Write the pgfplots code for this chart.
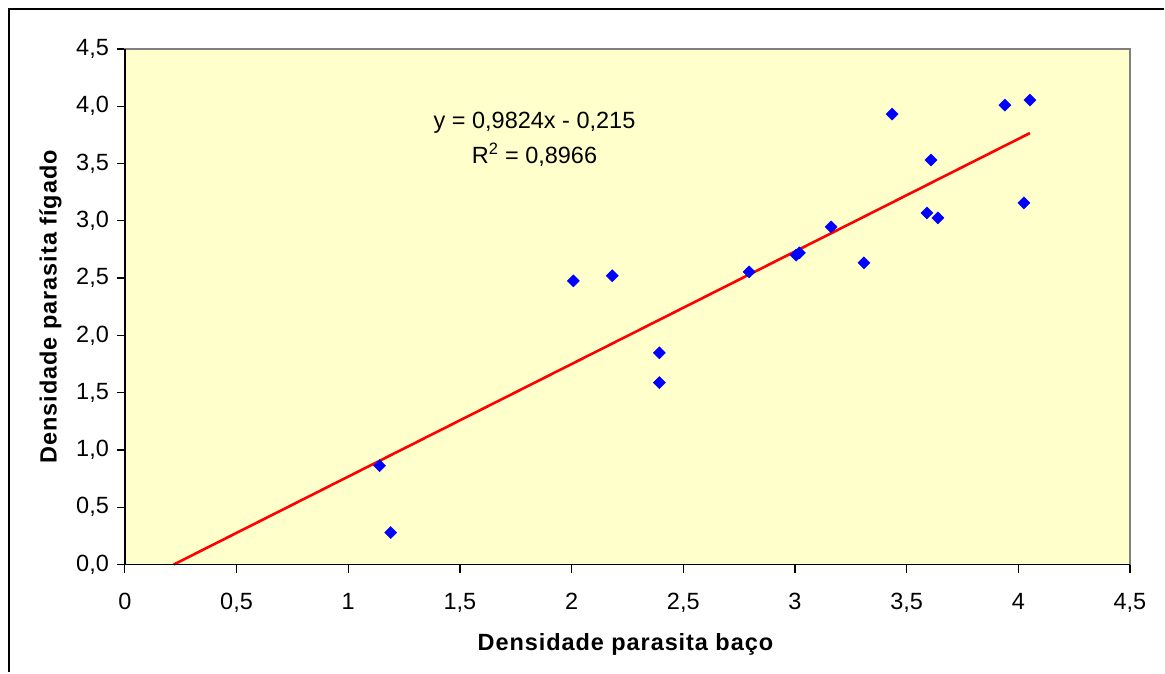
\documentclass[border=0pt]{standalone}
\usepackage{fontspec}
\setmainfont{Liberation Sans}
\usepackage{pgfplots}
\pgfplotsset{compat=1.18}
\usepackage{xcolor}
\definecolor{plotbg}{HTML}{FFFFCC}
\definecolor{frame}{HTML}{808080}

\begin{document}
\fontsize{23.5bp}{28bp}\selectfont
\begin{tikzpicture}
\begin{axis}[
scale only axis,
width=1006bp, height=516bp,
xmin=0, xmax=4.5, ymin=0, ymax=4.5,
xtick={0,0.5,1,1.5,2,2.5,3,3.5,4,4.5},
ytick={0,0.5,1,1.5,2,2.5,3,3.5,4,4.5},
xtick pos=bottom, ytick pos=left,
tick align=outside,
major tick length=8bp,
tick style={black, line width=1.2bp},
axis line style={frame, line width=1.5bp},
axis background/.style={fill=plotbg},
xticklabel style={yshift=-13bp, /pgf/number format/fixed, /pgf/number format/precision=1, /pgf/number format/use comma},
yticklabel style={/pgf/number format/fixed, /pgf/number format/fixed zerofill, /pgf/number format/precision=1, /pgf/number format/use comma},
/pgf/number format/assume math mode=true,
xlabel={\addfontfeature{LetterSpace=4}\bfseries Densidade parasita baço},
ylabel={\addfontfeature{LetterSpace=4}\bfseries Densidade parasita fígado},
x label style={at={(axis description cs:0.498,-0.1667)}, anchor=base},
y label style={at={(axis description cs:-0.0679,0.5)}, anchor=base, rotate=0},
clip=false,
]
\addplot[only marks, mark=square*, mark size=4.3bp, color=blue, mark options={rotate=45, fill=blue}] coordinates {
(1.140,0.863) (1.190,0.279) (2.008,2.476) (2.182,2.520) (2.393,1.848)
(2.393,1.587) (2.795,2.554) (3.005,2.700) (3.020,2.720) (3.162,2.947)
(3.309,2.633) (3.435,3.932) (3.609,3.531) (3.591,3.069) (3.640,3.025)
(3.940,4.010) (4.052,4.054) (4.025,3.156)
};
\addplot[color=red, line width=2.6bp] coordinates {(0.2189,0) (4.052,3.7657)};
\node[anchor=base] at (axis cs:1.834,3.81) {y = 0,9824x - 0,215};
\node[anchor=base] at (axis cs:1.834,3.496) {R\textsuperscript{2} = 0,8966};
\draw[black, line width=1.5bp] (rel axis cs:0,1) -- (rel axis cs:0,0) -- (rel axis cs:1,0);
\end{axis}
\draw[black, line width=2bp] (-116bp,-108bp) -- (-116bp,556bp) -- (1040bp,556bp);
\path[use as bounding box] (-125bp,-108bp) rectangle (1040bp,565bp);
\end{tikzpicture}
\end{document}
